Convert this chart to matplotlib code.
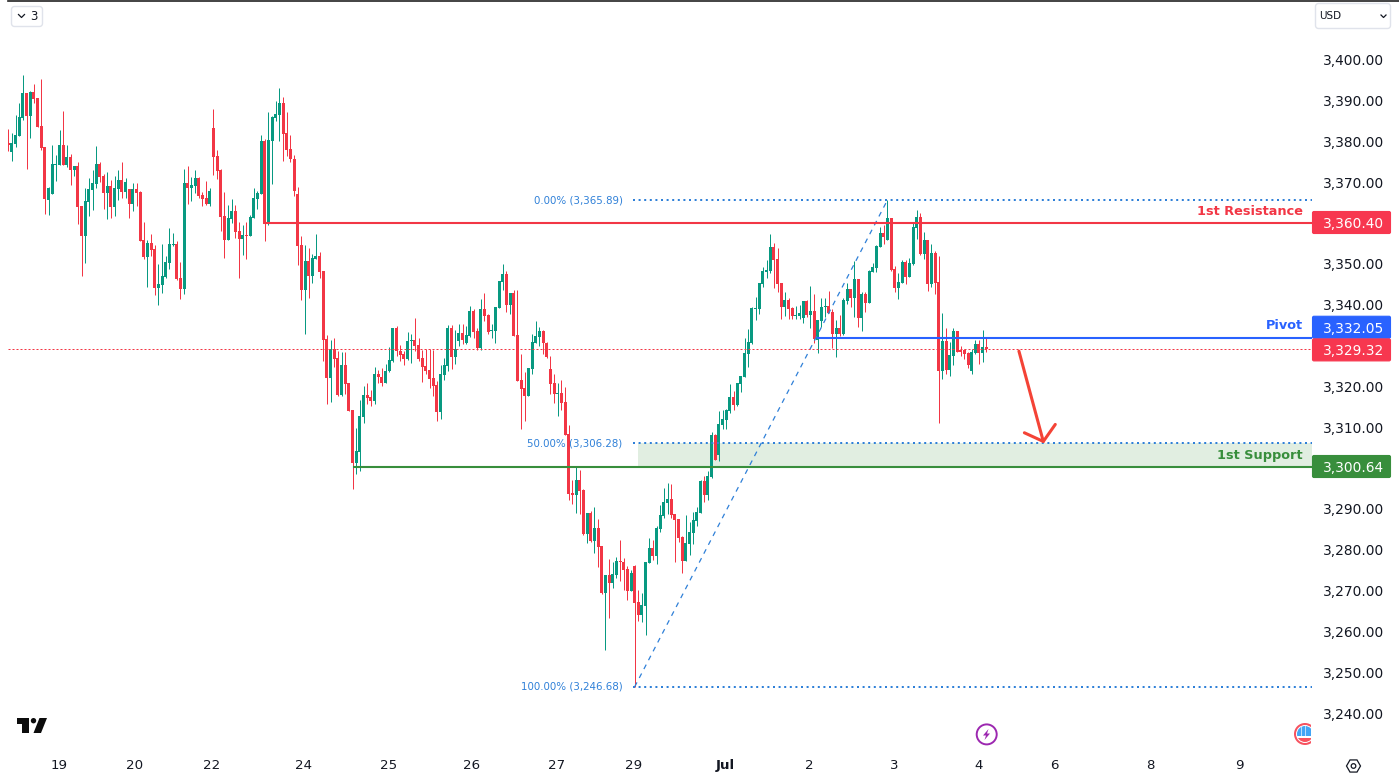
import numpy as np
import matplotlib
matplotlib.use("Agg")
import matplotlib.pyplot as plt
from matplotlib.patches import FancyBboxPatch, Circle, Polygon, Rectangle
from matplotlib.transforms import ScaledTranslation

# hourly candles
opens = [
    3379.8,3377.7,3379.6,3381.6,3386.0,3392.1,3386.5,3392.4,3390.9,3384.0,3378.9,3365.9,3367.4,3374.5,3374.5,3379.4,3374.5,3376.4,3373.3,3374.2,
    3364.4,3357.1,3365.4,3368.4,3369.8,3374.7,3371.8,3367.6,3369.3,3364.2,3368.6,3370.8,3367.9,3368.6,3364.9,3368.6,3367.9,3356.1,3351.9,3355.4,
    3353.9,3344.4,3345.1,3347.1,3350.5,3354.9,3355.1,3346.8,3344.1,3370.1,3368.9,3369.3,3371.3,3367.1,3366.4,3364.9,3383.5,3376.7,3373.3,3362.0,
    3356.1,3361.3,3363.2,3358.3,3356.4,3357.3,3357.1,3361.5,3366.2,3367.4,3380.4,3360.0,3380.4,3386.0,3386.7,3389.7,3382.3,3378.4,3376.0,3367.4,
    3354.9,3343.9,3351.0,3347.3,3351.5,3352.2,
    3348.5,3331.9,3322.3,3329.4,3327.2,3318.2,3325.5,3321.1,3314.5,3301.5,3304.2,3312.8,3318.2,3317.7,3316.7,3323.3,3322.6,3321.1,3324.0,3326.5,
    3334.6,3328.9,3328.2,3327.0,3331.4,3331.6,3330.4,3327.2,3325.3,3324.3,3322.3,3320.6,3314.0,3323.1,3325.3,3334.6,3327.5,3331.4,3333.3,3330.9,
    3332.6,3338.7,3333.8,3329.7,3339.2,3337.7,3333.8,3333.8,3339.5,3345.8,3347.8,3340.2,3343.1,3332.8,3321.8,3319.9,3317.9,3324.5,3330.9,3332.4,
    3333.8,3330.9,3324.5,3321.1,3318.4,3318.6,3316.4,3308.6,
    3294.2,3293.7,3297.3,3294.9,3284.1,3289.3,3282.4,3285.6,3281.2,3269.7,3274.1,3272.1,3274.1,3277.5,3277.3,3275.5,3270.1,3276.3,3267.5,3264.3,
    3266.5,3277.0,3280.7,3278.7,3285.3,3288.5,3291.7,3292.7,3289.0,3287.8,3283.4,3277.5,3281.7,3284.4,3287.3,3289.3,3297.1,3293.7,3298.1,3308.4,
    3303.5,
    3310.8,3312.0,3314.2,3317.7,3315.7,3320.9,3322.6,3328.2,3330.9,3339.2,3339.2,3345.4,3348.3,3348.5,3354.4,3351.5,3345.6,3339.7,3341.4,3339.5,
    3337.5,3337.5,3337.0,3341.2,3337.8,3338.7,3331.6,3336.3,3339.7,3339.9,3338.5,3333.1,3334.6,3333.1,3341.2,3344.1,3341.9,3346.6,3337.0,3342.9,
    3340.7,3348.3,3349.3,3354.4,3357.8,3356.1,3361.5,3349.0,3344.4,3345.6,3350.7,3347.1,3350.2,3359.1,3361.8,3352.7,3356.1,3345.4,3352.9,3345.8,
    3324.0,3331.4,3324.3,3327.7,3333.8,3329.2,3329.2,3328.4,3324.0,3328.4,3330.6,3328.4,3329.9,
]
closes = [
    3379.3,3379.9,3381.8,3386.2,3392.1,3386.5,3392.4,3390.6,3383.8,3378.6,3366.2,3368.9,3374.7,3374.7,3379.4,3374.5,3376.4,3373.3,3374.2,3364.2,
    3357.1,3365.7,3368.6,3370.1,3374.7,3371.5,3367.6,3369.3,3364.2,3368.9,3370.8,3367.9,3370.3,3364.9,3368.6,3367.6,3355.9,3351.9,3355.4,3353.7,
    3344.4,3345.3,3347.3,3350.7,3355.1,3355.1,3346.6,3344.1,3370.1,3368.9,3369.6,3371.3,3366.9,3366.2,3364.9,3368.1,3376.4,3373.0,3361.7,3356.1,
    3361.5,3363.2,3358.1,3356.4,3357.3,3357.1,3361.7,3366.4,3367.6,3380.4,3360.0,3380.6,3386.2,3387.0,3389.7,3382.1,3378.2,3376.0,3368.1,3354.6,
    3343.9,3351.0,3347.3,3351.7,3352.2,3348.3,
    3331.6,3322.3,3329.4,3327.0,3318.2,3325.5,3320.8,3314.2,3301.5,3304.4,3313.0,3318.2,3317.4,3316.7,3323.3,3322.6,3321.1,3324.0,3326.7,3334.6,
    3328.9,3328.0,3327.0,3331.4,3331.6,3330.2,3327.0,3325.0,3324.0,3322.1,3320.4,3314.0,3323.3,3325.5,3334.6,3327.5,3329.4,3333.3,3331.6,3332.8,
    3338.7,3333.6,3329.7,3339.2,3337.5,3333.6,3334.1,3339.7,3346.1,3347.8,3340.2,3343.1,3332.6,3321.6,3319.6,3317.9,3324.8,3331.1,3332.6,3333.8,
    3330.9,3327.5,3320.8,3318.4,3318.6,3316.2,3308.4,3293.9,
    3293.7,3297.3,3294.6,3284.1,3289.3,3282.4,3285.6,3280.9,3269.7,3274.1,3272.1,3274.3,3277.5,3277.3,3275.3,3270.1,3274.6,3267.2,3264.3,3266.7,
    3277.3,3280.7,3278.7,3285.6,3288.8,3291.9,3292.7,3288.8,3287.5,3283.1,3277.5,3281.9,3284.6,3287.5,3289.5,3297.1,3293.7,3298.3,3308.4,3302.2,
    3311.05,
    3312.3,3314.5,3317.7,3315.7,3321.1,3322.8,3328.4,3331.1,3339.5,3339.5,3345.6,3348.5,3348.8,3354.4,3351.2,3345.4,3339.7,3341.4,3339.2,3337.5,
    3337.7,3338.2,3341.2,3337.8,3338.7,3331.9,3336.5,3339.7,3339.9,3338.2,3333.1,3334.6,3333.1,3341.4,3344.1,3341.9,3346.6,3337.0,3342.9,3340.7,
    3348.5,3349.4,3354.6,3357.8,3356.8,3361.5,3348.8,3344.4,3345.8,3350.7,3347.1,3350.5,3359.3,3361.8,3352.7,3356.1,3345.4,3352.9,3345.6,3324.0,
    3331.4,3324.3,3327.95,3333.8,3328.7,3328.7,3328.2,3325.5,3328.7,3330.6,3328.4,3329.9,3329.32,
]
highs = [
    3383.3,3382.2,3386.7,3389.7,3396.5,3392.1,3392.6,3394.3,3390.9,3395.5,3378.9,3369.1,3379.4,3376.9,3383.1,3387.7,3379.4,3377.2,3374.2,3375.2,
    3364.4,3368.9,3371.3,3373.3,3379.1,3375.2,3372.3,3372.8,3370.8,3371.8,3373.3,3375.2,3371.3,3368.6,3370.1,3370.1,3368.1,3360.5,3356.1,3357.6,
    3354.9,3350.2,3355.1,3352.2,3359.1,3357.8,3355.9,3350.7,3373.5,3374.2,3371.5,3373.3,3371.5,3367.9,3370.6,3368.9,3388.2,3378.2,3373.5,3367.9,
    3364.7,3366.2,3364.7,3360.5,3359.8,3360.5,3362.2,3368.9,3368.1,3381.8,3380.9,3387.5,3386.5,3390.2,3393.3,3391.1,3387.5,3381.8,3376.9,3369.1,
    3357.1,3354.9,3354.2,3352.7,3357.6,3353.2,
    3348.5,3332.8,3331.6,3332.1,3328.9,3328.7,3328.7,3321.1,3314.5,3310.1,3316.9,3320.4,3321.1,3319.4,3325.0,3324.3,3324.8,3325.7,3329.9,3334.6,
    3335.0,3330.4,3328.9,3333.6,3333.1,3337.0,3332.1,3329.2,3329.4,3329.4,3329.2,3321.6,3325.5,3327.2,3335.3,3335.3,3334.1,3335.5,3335.5,3335.0,
    3340.0,3339.2,3334.6,3341.7,3343.1,3338.0,3335.5,3339.7,3346.1,3350.2,3348.5,3343.1,3343.9,3343.9,3328.2,3323.8,3324.8,3333.1,3336.3,3334.8,
    3334.1,3331.1,3327.7,3323.3,3321.1,3321.8,3320.1,3310.8,
    3297.3,3300.5,3299.8,3295.1,3289.3,3289.7,3290.7,3287.8,3281.2,3274.1,3278.0,3277.3,3278.5,3282.6,3278.2,3276.3,3275.3,3276.5,3270.4,3269.7,
    3277.3,3283.1,3282.6,3286.1,3291.2,3295.4,3296.6,3296.4,3289.0,3287.8,3283.6,3288.8,3287.0,3289.5,3290.7,3297.3,3298.3,3299.5,3309.1,3308.6,
    3314.3,
    3314.5,3314.7,3320.9,3319.1,3321.1,3322.8,3332.1,3334.3,3339.7,3342.2,3345.6,3349.5,3351.2,3357.6,3355.4,3354.2,3345.6,3343.4,3341.9,3339.7,
    3339.9,3340.2,3341.2,3341.4,3344.9,3342.9,3336.5,3341.9,3341.9,3343.6,3339.2,3336.5,3337.8,3341.9,3345.6,3344.1,3351.0,3346.6,3343.4,3343.4,
    3348.8,3350.5,3354.9,3359.3,3359.8,3365.89,3361.5,3349.7,3348.0,3351.2,3351.2,3351.7,3360.5,3363.5,3362.7,3358.1,3356.1,3355.1,3353.4,3352.2,
    3338.2,3334.6,3331.1,3334.6,3333.8,3330.2,3329.4,3328.7,3329.4,3331.6,3331.6,3334.1,3332.1,
]
lows = [
    3377.8,3375.5,3378.8,3381.6,3385.5,3373.5,3381.1,3389.7,3383.8,3378.2,3362.5,3362.2,3367.4,3370.6,3374.5,3374.5,3374.0,3369.6,3371.8,3360.0,
    3347.3,3350.5,3362.0,3363.5,3368.9,3370.3,3363.7,3361.3,3361.5,3362.0,3365.9,3366.4,3366.4,3361.5,3363.2,3364.4,3355.9,3351.5,3344.6,3352.2,
    3342.7,3340.2,3343.1,3346.8,3349.0,3354.7,3346.3,3341.7,3342.9,3364.9,3365.6,3367.6,3366.4,3364.4,3364.7,3364.4,3372.0,3371.1,3358.3,3351.7,
    3356.1,3360.3,3356.6,3346.8,3352.4,3351.5,3357.1,3361.5,3363.7,3367.4,3355.9,3359.8,3369.8,3385.3,3380.4,3375.5,3376.7,3375.2,3366.9,3350.0,
    3341.4,3333.1,3341.9,3345.6,3351.5,3346.8,
    3326.5,3315.9,3316.4,3325.0,3317.9,3317.9,3318.4,3314.2,3295.1,3298.8,3299.6,3311.3,3315.9,3315.5,3315.9,3321.0,3320.4,3321.1,3323.8,3326.2,
    3327.7,3326.5,3325.5,3326.7,3326.0,3328.9,3326.5,3321.3,3323.3,3319.9,3317.9,3311.8,3312.3,3321.8,3324.0,3324.5,3325.7,3330.2,3330.6,3330.6,
    3332.4,3332.1,3329.2,3329.2,3336.3,3333.1,3332.1,3330.9,3339.5,3343.9,3338.5,3338.0,3332.6,3321.6,3309.8,3311.8,3317.9,3323.3,3330.9,3330.2,
    3328.2,3327.2,3318.4,3316.2,3313.0,3314.5,3308.4,3292.4,
    3291.5,3289.3,3289.0,3283.9,3281.9,3282.2,3279.5,3276.0,3269.4,3255.7,3263.5,3270.9,3273.3,3272.6,3270.4,3267.95,3270.1,3246.68,3262.8,3262.6,
    3259.4,3277.0,3277.7,3276.8,3284.6,3288.0,3289.0,3288.0,3277.3,3282.2,3274.6,3277.5,3279.0,3281.7,3286.1,3289.3,3291.9,3292.4,3297.8,3302.2,
    3302.0,
    3309.8,3309.8,3313.8,3314.5,3315.5,3318.9,3322.6,3325.0,3330.6,3336.5,3338.0,3344.6,3346.8,3348.0,3344.4,3343.4,3336.8,3337.5,3336.8,3336.8,
    3336.8,3336.8,3335.8,3337.3,3334.6,3330.9,3328.4,3334.8,3337.3,3338.2,3329.7,3327.5,3332.6,3332.9,3340.5,3339.7,3337.3,3334.8,3333.8,3338.5,
    3340.7,3348.3,3348.3,3354.4,3355.1,3356.1,3348.5,3343.4,3341.7,3345.6,3345.4,3347.1,3350.0,3356.4,3352.5,3351.5,3343.6,3344.6,3342.9,3311.3,
    3322.1,3323.3,3322.8,3325.5,3328.7,3327.7,3327.0,3324.8,3323.3,3328.2,3325.8,3326.2,3328.7,
]

# price levels
resistance = 3360.40
pivot = 3332.05
support = 3300.64
last_price = 3329.32
fib_levels = [3365.89, 3306.28, 3246.68]
fib_names = ["0.00%", "50.00%", "100.00%"]
price_ticks = [3400, 3390, 3380, 3370, 3350, 3340, 3320, 3310, 3290, 3280, 3270, 3260, 3250, 3240]
# candle positions of the day labels
day_pos = [13.8, 34.6, 55.6, 80.7, 103.7, 126.6, 149.8, 170.6, 195.7, 218.6, 241.8, 265.0, 285.7, 311.9, 336.0]
day_labels = ["19", "20", "22", "24", "25", "26", "27", "29", "Jul", "2", "3", "4", "6", "8", "9"]

W, H = 1399, 780
RED = "#f23645"
GREEN = "#089981"
BLUE = "#2962ff"
DKGREEN = "#388e3c"
FIB = "#2f80d8"
INK = "#131722"

fig = plt.figure(figsize=(W / 100, H / 100), dpi=100, facecolor="white")

# chart area in pixels: x 8..1312, y 0..748
ax = fig.add_axes([8 / W, (H - 748) / H, (1312 - 8) / W, 748 / H])
step = 3.663
ax.set_xlim((8 - 8.3) / step, (1312 - 8.3) / step)
ax.set_ylim(3360.4 - (748 - 222.5) / 4.083, 3360.4 + 222.5 / 4.083)
for s in ax.spines.values():
    s.set_visible(False)

x = np.arange(len(opens))
o, c, hi, lo = map(np.array, (opens, closes, highs, lows))
up = c >= o
colors = np.where(up, GREEN, RED)
wicks = ax.vlines(x, lo, hi, colors=colors, lw=0.72, zorder=2)
wicks.set_snap(True)
bottom = np.minimum(o, c)
height = np.maximum(np.abs(c - o), 0.25)
ax.bar(x, height, 3 / step, bottom, color=colors, linewidth=0, zorder=3)

# fib retracement, low of the 29th to the high of the 3rd
fib_start = int(np.argmin(lows))
fib_end = fib_start + int(np.argmax(highs[fib_start:]))
x_right = ax.get_xlim()[1]
for level, name in zip(fib_levels, fib_names):
    ax.plot([fib_start - 0.5, x_right], [level, level], color=FIB, lw=1.44,
            linestyle=(0, (1, 1.8)), zorder=4)
    ax.text(fib_start - 3.3, level, f"{name} ({level:,.2f})", color=FIB, fontsize=7.4,
            ha="right", va="center", zorder=6)
ax.plot([fib_start, fib_end], [fib_levels[2], fib_levels[0]], color=FIB, lw=0.9,
        linestyle=(0, (4, 4)), zorder=4)
ax.add_patch(Rectangle((fib_start + 1, support), x_right - fib_start - 1, fib_levels[1] - support,
                       facecolor=DKGREEN, alpha=0.15, linewidth=0, zorder=1))

# support / resistance levels
ax.plot([70, x_right], [resistance, resistance], color=RED, lw=1.5, zorder=5)
ax.plot([221, x_right], [pivot, pivot], color=BLUE, lw=1.5, zorder=5)
ax.plot([94.5, x_right], [support, support], color=DKGREEN, lw=1.5, zorder=5)
ax.axhline(last_price, color=RED, lw=0.72, linestyle=(0, (2, 2)), zorder=4)

label_x = (1303 - 8.3) / step
ax.text(label_x, resistance + 1.0, "1st Resistance", color=RED, fontsize=9.3, weight="bold",
        ha="right", va="bottom", zorder=6)
ax.text(label_x, pivot + 1.5, "Pivot", color=BLUE, fontsize=9.3, weight="bold",
        ha="right", va="bottom", zorder=6)
ax.text(label_x, support + 1.0, "1st Support", color=DKGREEN, fontsize=9.3, weight="bold",
        ha="right", va="bottom", zorder=6)

# hand drawn arrow
ax.annotate("", xy=(282.7, 3306.3), xytext=(275.9, 3328.9),
            arrowprops=dict(arrowstyle="->,head_length=0.40,head_width=0.48", color="#f44336",
                            lw=2.2, shrinkA=0, shrinkB=0, mutation_scale=24, capstyle="round"), zorder=7)

ax.set_xticks(day_pos)
ax.set_xticklabels(day_labels, fontsize=9.6, color=INK)
ax.set_yticks(price_ticks)
ax.set_yticklabels([f"{p:,.2f}" for p in price_ticks], fontsize=9.9, color=INK, va="center_baseline")
ax.yaxis.tick_right()
ax.tick_params(axis="both", length=0)
ax.tick_params(axis="y", pad=8)
ax.tick_params(axis="x", pad=8)
ax.get_xticklabels()[8].set_fontweight("bold")
for lab in ax.get_yticklabels():
    lab.set_transform(lab.get_transform() + ScaledTranslation(0, 1 / 100, fig.dpi_scale_trans))

# overlay in pixel coordinates for the chart furniture
ui = fig.add_axes([0, 0, 1, 1], facecolor="none")
ui.set_xlim(0, W)
ui.set_ylim(H, 0)
ui.axis("off")


def price_y(p):
    return H - ax.transData.transform((0, p))[1]


def price_box(p, color, shift=0):
    # the pivot tag gets pushed up by the last price tag, like on the platform
    y = price_y(p) + shift
    ui.add_patch(FancyBboxPatch((1312.5, y - 11), 78, 22, boxstyle="round,pad=0,rounding_size=1.5",
                                facecolor=color, edgecolor=color, lw=0.8))
    ui.text(1353.5, y, f"{p:,.2f}", color="white", fontsize=9.9, ha="center", va="center_baseline")


price_box(resistance, "#f7374f")
price_box(support, DKGREEN)
price_box(pivot, BLUE, shift=-11)
price_box(last_price, "#f7374f", shift=0.5)

# top border and buttons
ui.plot([8, W], [0.5, 0.5], color="#222222", lw=1.2)
ui.add_patch(FancyBboxPatch((11.5, 6.5), 31, 20, boxstyle="round,pad=0,rounding_size=3",
                            facecolor="white", edgecolor="#e0e3eb", lw=1))
ui.plot([18.5, 21.5, 24.5], [14.5, 17.5, 14.5], color=INK, lw=0.9)
ui.text(34, 16.5, "3", color=INK, fontsize=8.5, ha="center", va="center")
ui.add_patch(FancyBboxPatch((1315.5, 3.5), 75, 25, boxstyle="round,pad=0,rounding_size=3",
                            facecolor="white", edgecolor="#e0e3eb", lw=1))
ui.text(1319, 16, "USD", color=INK, fontsize=7.5, ha="left", va="center")
ui.plot([1381, 1383.5, 1386], [15, 17.5, 15], color=INK, lw=0.9)

# tradingview logo
ui.add_patch(Polygon([(17, 718), (29, 718), (29, 733), (22, 733), (22, 723.5), (17, 723.5)], color="#0c0c0c", lw=0))
ui.add_patch(Circle((33.5, 720.7), 2.7, color="#0c0c0c", lw=0))
ui.add_patch(Polygon([(39.5, 718), (47, 718), (41, 733), (33.5, 733)], color="#0c0c0c", lw=0))

# event markers
ui.add_patch(Circle((986.7, 734.4), 10, facecolor="white", edgecolor="#9c27b0", lw=1.4))
ui.add_patch(Polygon([(988.5, 729), (983, 735.5), (986, 735.5), (984.5, 740), (990, 733.5), (987, 733.5)],
                     color="#9c27b0", lw=0))
ui.add_patch(Circle((1305, 734), 11, facecolor="#f7525f", lw=0))
ui.add_patch(Circle((1305, 734), 9, facecolor="white", lw=0))
for rect in [Rectangle((1296, 738), 16, 4, facecolor="#f7525f", lw=0),
             Rectangle((1296, 726), 16, 10, facecolor="#42a5f5", lw=0),
             Rectangle((1296, 729.5), 16, 0.7, facecolor="#bbdefb", lw=0),
             Rectangle((1296, 732.5), 16, 0.7, facecolor="#bbdefb", lw=0),
             Rectangle((1301, 726), 0.7, 10, facecolor="#bbdefb", lw=0),
             Rectangle((1305, 726), 0.7, 10, facecolor="#bbdefb", lw=0)]:
    ui.add_patch(rect)
    rect.set_clip_path(Circle((1305, 734), 8, transform=ui.transData))
ui.add_patch(Rectangle((1311, 720), 6, 28, facecolor="white", lw=0))

# settings hexagon
ang = np.deg2rad(np.arange(0, 360, 60))
ui.add_patch(Polygon(np.column_stack((1353.5 + 7 * np.cos(ang), 766 + 7 * np.sin(ang))),
                     fill=False, edgecolor=INK, lw=0.9))
ui.add_patch(Circle((1353.5, 766), 2.3, fill=False, edgecolor=INK, lw=0.9))

fig.savefig("out.png", dpi=100, facecolor="white")
